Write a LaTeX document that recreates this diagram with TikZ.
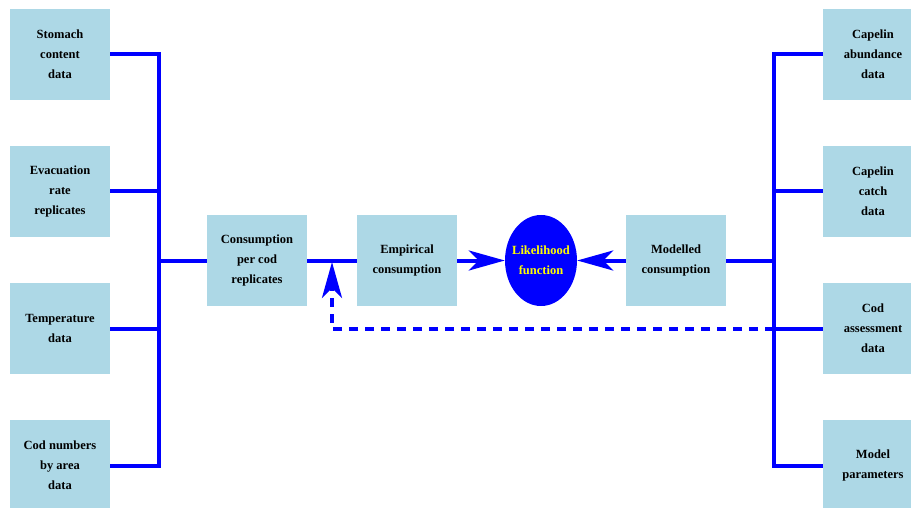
\documentclass[tikz,border=0pt]{standalone}
\usepackage{fontspec}
\setmainfont{Liberation Serif}
\usetikzlibrary{arrows.meta,shapes.geometric}
\definecolor{boxblue}{RGB}{173,216,230}
\definecolor{lineblue}{RGB}{0,0,255}
\definecolor{txtyellow}{RGB}{255,255,0}
\begin{document}
\begin{tikzpicture}[x=1pt,y=-1pt,
  databox/.style={rectangle, fill=boxblue, minimum width=100pt, minimum height=91pt,
    inner sep=0pt, align=center, font={\fontsize{12.5}{20}\selectfont\bfseries}},
  likebox/.style={ellipse, fill=lineblue, minimum width=72pt, minimum height=91pt,
    inner sep=0pt},
  liketext/.style={align=center, text=txtyellow, inner sep=0pt,
    font={\fontsize{12.5}{20}\selectfont\bfseries}},
  conn/.style={draw=lineblue, line width=4pt},
  bigtip/.style={-{Stealth[length=36pt,width=20pt,inset=10pt,fill=lineblue]}},
  dashconn/.style={draw=lineblue, line width=4pt, dash pattern=on 9pt off 7pt}]
\useasboundingbox (0,0) rectangle (911,508);
\clip (0,0) rectangle (911,508);
% left data boxes
\node[databox] (stom) at (60,54.5) {Stomach\\content\\data};
\node[databox] (evac) at (60,191.5) {Evacuation\\rate\\replicates};
\node[databox] (temp) at (60,328.5) {Temperature\\data};
\node[databox] (codn) at (60,465.5) {Cod numbers\\by area\\data};
% middle
\node[databox] (cons) at (257,260.5) {Consumption\\per cod\\replicates};
\node[databox] (emp) at (407,260.5) {Empirical\\consumption};
\node[likebox] (lik) at (541,260.5) {};
\node[liketext] (liktxt) at (lik.center) {Likelihood\\function};
\node[databox] (mod) at (676,260.5) {Modelled\\consumption};
% right data boxes
\node[databox] (capab) at (873,54.5) {Capelin\\abundance\\data};
\node[databox] (capc) at (873,191.5) {Capelin\\catch\\data};
\node[databox] (coda) at (873,328.5) {Cod\\assessment\\data};
\node[databox] (mpar) at (873,465.5) {Model\\parameters};
% buses
\coordinate (lbus) at (159,260.5);
\coordinate (rbus) at (774,260.5);
\coordinate (dtip) at (332,262);
% left connectors
\draw[conn] (stom.east) -| (lbus) -- (cons.west);
\draw[conn] (codn.east) -| (lbus);
\draw[conn] (evac.east) -- (evac.east -| lbus);
\draw[conn] (temp.east) -- (temp.east -| lbus);
% middle connectors
\draw[conn] (cons.east) -- (emp.west);
\draw[conn, bigtip] (emp.east) -- (lik.west);
\draw[conn, bigtip] (mod.west) -- (lik.east);
% right connectors
\draw[conn] (capab.west) -| (rbus) -- (mod.east);
\draw[conn] (mpar.west) -| (rbus);
\draw[conn] (capc.west) -- (capc.west -| rbus);
\draw[conn] (coda.west) -- (coda.west -| rbus);
% dashed feedback
\draw[dashconn, bigtip] (coda.west -| rbus) -| (dtip);
\end{tikzpicture}
\end{document}
